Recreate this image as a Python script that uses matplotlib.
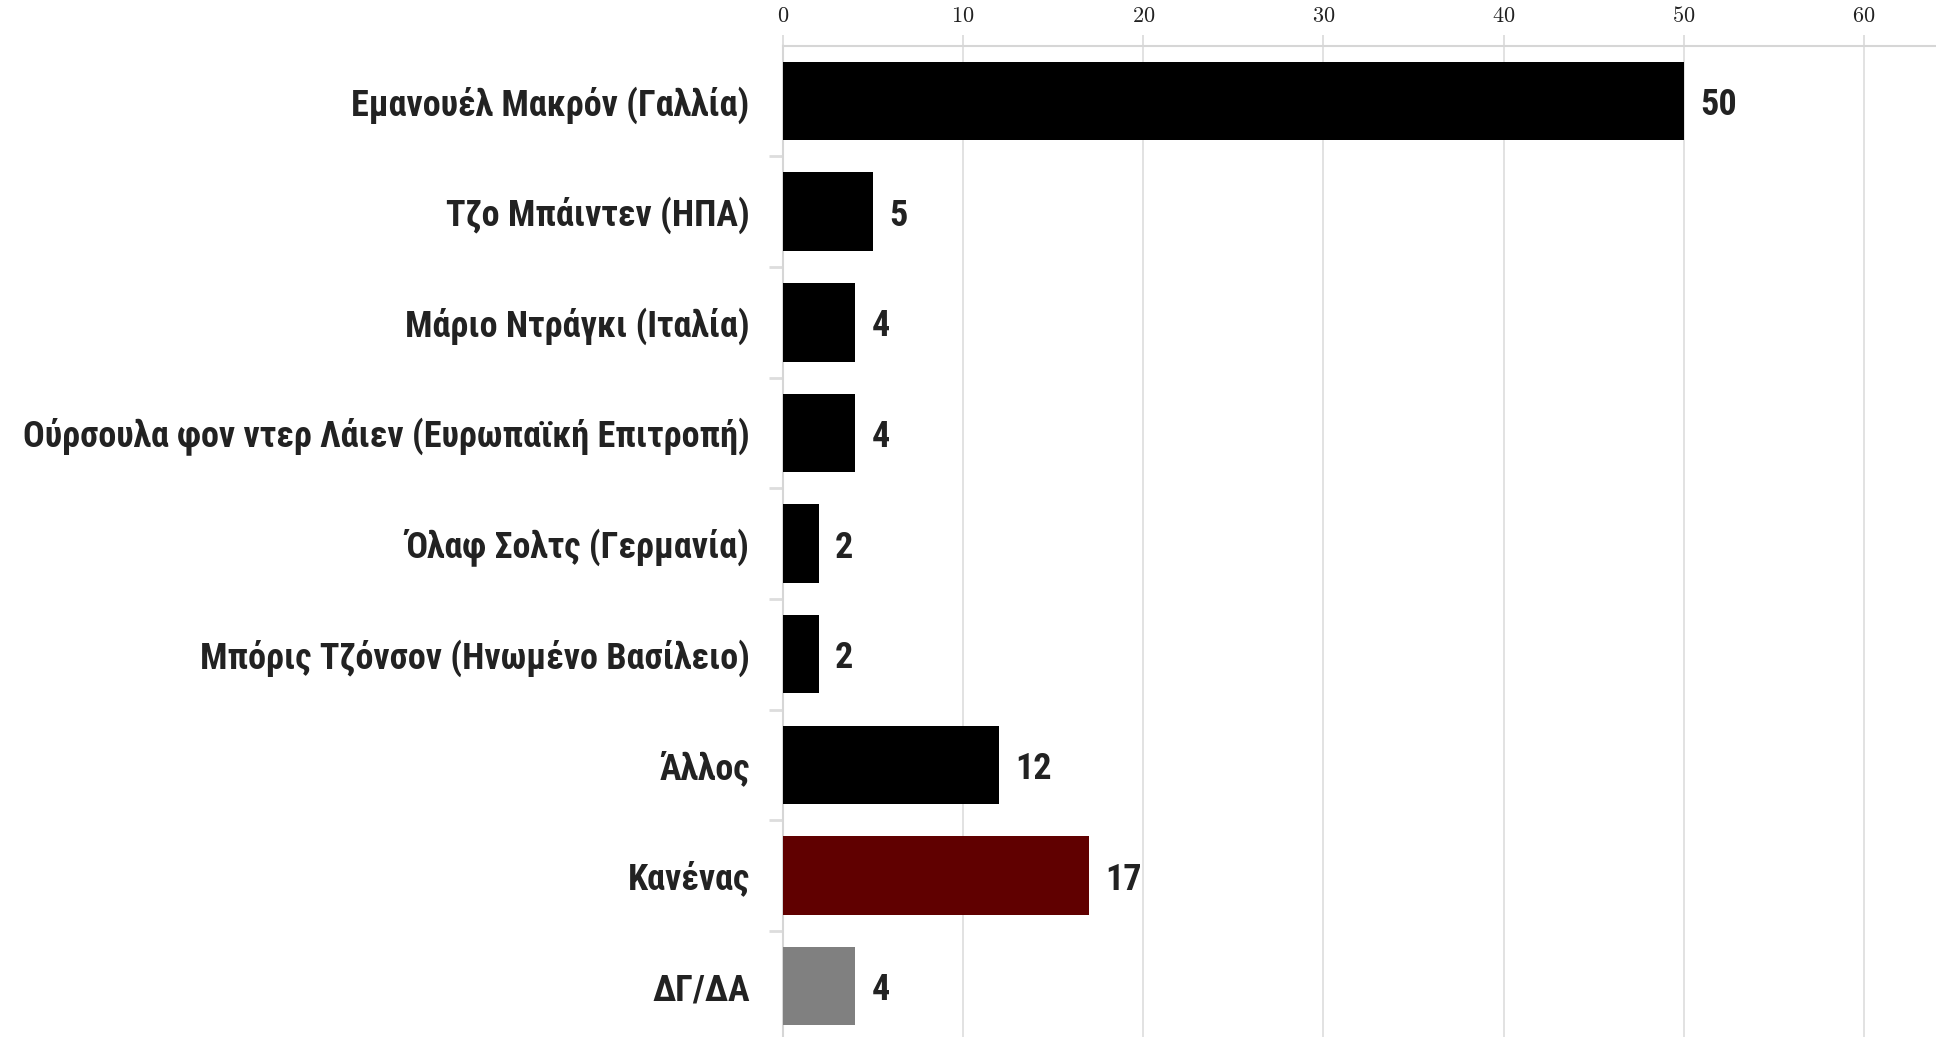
import matplotlib
matplotlib.use("Agg")
import matplotlib.pyplot as plt
from matplotlib.ticker import FuncFormatter, FixedLocator
from matplotlib import font_manager

categories = [
    "Εμανουέλ Μακρόν (Γαλλία)",
    "Τζο Μπάιντεν (ΗΠΑ)",
    "Μάριο Ντράγκι (Ιταλία)",
    "Ούρσουλα φον ντερ Λάιεν (Ευρωπαϊκή Επιτροπή)",
    "Όλαφ Σολτς (Γερμανία)",
    "Μπόρις Τζόνσον (Ηνωμένο Βασίλειο)",
    "Άλλος",
    "Κανένας",
    "ΔΓ/ΔΑ",
]
values = [50, 5, 4, 4, 2, 2, 12, 17, 4]
colors = ["#000000"] * 7 + ["#600000", "#808080"]
xticks = [0, 10, 20, 30, 40, 50, 60]

plt.rcParams["mathtext.fontset"] = "cm"
names = {f.name for f in font_manager.fontManager.ttflist}
cands = ["Roboto Condensed", "Liberation Sans Narrow", "Open Sans Condensed",
         "DejaVu Sans Condensed"]
label_font = [c for c in cands if c in names] + ["Roboto", "DejaVu Sans"]
condensed = label_font[0] in cands
fs = 26 if condensed else 21

W, H = 1936, 1037
fig = plt.figure(figsize=(W / 100, H / 100), dpi=100)
left_px, right_px, top_px, bot_px = 783, 1936, 45.6, 1041.5
ax = fig.add_axes([left_px / W, (H - bot_px) / H, (right_px - left_px) / W, (bot_px - top_px) / H])

y = list(range(len(categories)))
ax.barh(y, values, height=0.71, color=colors, zorder=3)
ax.set_xlim(0, 64)
ax.set_ylim(len(categories) - 0.5, -0.5)

ax.xaxis.tick_top()
ax.xaxis.set_major_locator(FixedLocator(xticks))
ax.xaxis.set_major_formatter(FuncFormatter(lambda v, p: f"${v:g}$"))
ax.tick_params(axis="x", which="major", direction="out", length=8, width=1.2,
               color="#d9d9d9", labelsize=16, pad=6, labelcolor="#222222")
ax.grid(axis="x", color="#dddddd", linewidth=1.2, zorder=0)

ax.set_yticks(y)
ax.set_yticklabels(categories, fontfamily=label_font, fontweight="bold",
                   fontsize=fs, color="#222222", va="center_baseline")
ax.set_yticks([i + 0.5 for i in range(len(categories) - 1)], minor=True)
ax.tick_params(axis="y", which="major", length=0, pad=24)
ax.tick_params(axis="y", which="minor", length=10, width=2, color="#dddddd")

for s in ["right", "bottom"]:
    ax.spines[s].set_visible(False)
ax.spines["top"].set_color("#d6d6d6")
ax.spines["top"].set_linewidth(1.5)
ax.spines["left"].set_color("#d6d6d6")
ax.spines["left"].set_linewidth(1.5)

for yi, v in zip(y, values):
    ax.text(v + 0.9, yi, str(v), va="center_baseline", ha="left", fontfamily=label_font,
            fontweight="bold", fontsize=fs, color="#222222")

fig.savefig("out.png", dpi=100)
